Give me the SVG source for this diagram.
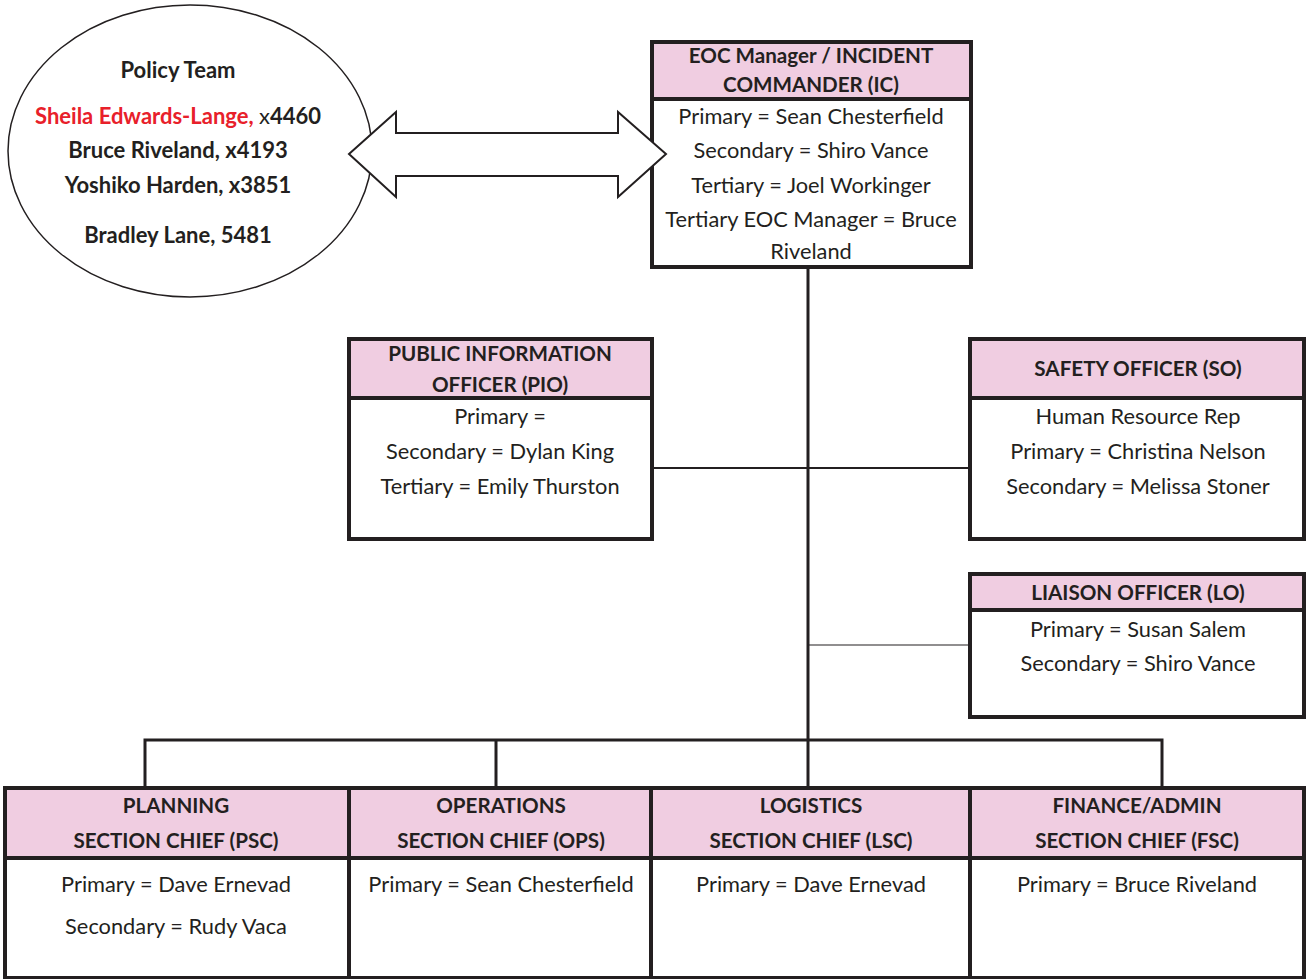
<svg xmlns="http://www.w3.org/2000/svg" width="1306" height="979" viewBox="0 0 1306 979">
<style>
.box{fill:#fff;stroke:#231f20;stroke-width:4}
.hdr{fill:#f0cde1;stroke:#231f20;stroke-width:4}
.t{font-family:Lato,"Open Sans",sans-serif;font-size:21.8px;fill:#231f20;text-anchor:middle}
.b{font-family:Lato,"Open Sans",sans-serif;font-size:20.6px;font-weight:bold;fill:#231f20;text-anchor:middle}
.p{font-family:Lato,"Open Sans",sans-serif;font-size:22px;font-weight:bold;fill:#231f20;text-anchor:middle}
.c{stroke:#231f20;fill:none}
</style>
<rect width="1306" height="979" fill="#fff"/>
<g id="policy">
<ellipse cx="190" cy="151" rx="182" ry="146" fill="none" stroke="#231f20" stroke-width="1.5"/>
<text class="p" x="178" y="78">Policy Team</text>
<text class="p" x="178" y="124"><tspan fill="#e8202a">Sheila Edwards-Lange, </tspan><tspan font-weight="normal">x</tspan>4460</text>
<text class="p" x="178" y="158">Bruce Riveland, x4193</text>
<text class="p" x="178" y="193">Yoshiko Harden, x3851</text>
<text class="p" x="178" y="243">Bradley Lane, 5481</text>
</g>
<g id="eoc">
<rect class="box" x="652" y="42" width="319" height="225"/>
<rect class="hdr" x="652" y="42" width="319" height="57"/>
<text class="b" x="811" y="63">EOC Manager / INCIDENT</text>
<text class="b" x="811" y="92">COMMANDER (IC)</text>
<text class="t" x="811" y="124">Primary = Sean Chesterfield</text>
<text class="t" x="811" y="158">Secondary = Shiro Vance</text>
<text class="t" x="811" y="193">Tertiary = Joel Workinger</text>
<text class="t" x="811" y="227">Tertiary EOC Manager = Bruce</text>
<text class="t" x="811" y="259">Riveland</text>
</g>
<g id="pio">
<rect class="box" x="349" y="339" width="303" height="200"/>
<rect class="hdr" x="349" y="339" width="303" height="59"/>
<text class="b" x="500" y="361">PUBLIC INFORMATION</text>
<text class="b" x="500" y="392">OFFICER (PIO)</text>
<text class="t" x="500" y="424">Primary =</text>
<text class="t" x="500" y="459">Secondary = Dylan King</text>
<text class="t" x="500" y="494">Tertiary = Emily Thurston</text>
</g>
<g id="safety">
<rect class="box" x="970" y="339" width="334" height="200"/>
<rect class="hdr" x="970" y="339" width="334" height="59"/>
<text class="b" x="1138" y="376">SAFETY OFFICER (SO)</text>
<text class="t" x="1138" y="424">Human Resource Rep</text>
<text class="t" x="1138" y="459">Primary = Christina Nelson</text>
<text class="t" x="1138" y="494">Secondary = Melissa Stoner</text>
</g>
<g id="liaison">
<rect class="box" x="970" y="574" width="334" height="143"/>
<rect class="hdr" x="970" y="574" width="334" height="36"/>
<text class="b" x="1138" y="600">LIAISON OFFICER (LO)</text>
<text class="t" x="1138" y="637">Primary = Susan Salem</text>
<text class="t" x="1138" y="671">Secondary = Shiro Vance</text>
</g>
<g id="psc">
<rect class="box" x="5" y="788" width="344" height="190"/>
<rect class="hdr" x="5" y="788" width="344" height="70"/>
<text class="b" x="176" y="813">PLANNING</text>
<text class="b" x="176" y="848">SECTION CHIEF (PSC)</text>
<text class="t" x="176" y="892">Primary = Dave Ernevad</text>
<text class="t" x="176" y="934">Secondary = Rudy Vaca</text>
</g>
<g id="ops">
<rect class="box" x="349" y="788" width="302" height="190"/>
<rect class="hdr" x="349" y="788" width="302" height="70"/>
<text class="b" x="501" y="813">OPERATIONS</text>
<text class="b" x="501" y="848">SECTION CHIEF (OPS)</text>
<text class="t" x="501" y="892">Primary = Sean Chesterfield</text>
</g>
<g id="lsc">
<rect class="box" x="651" y="788" width="319" height="190"/>
<rect class="hdr" x="651" y="788" width="319" height="70"/>
<text class="b" x="811" y="813">LOGISTICS</text>
<text class="b" x="811" y="848">SECTION CHIEF (LSC)</text>
<text class="t" x="811" y="892">Primary = Dave Ernevad</text>
</g>
<g id="fsc">
<rect class="box" x="970" y="788" width="334" height="190"/>
<rect class="hdr" x="970" y="788" width="334" height="70"/>
<text class="b" x="1137" y="813">FINANCE/ADMIN</text>
<text class="b" x="1137" y="848">SECTION CHIEF (FSC)</text>
<text class="t" x="1137" y="892">Primary = Bruce Riveland</text>
</g>
<g id="connectors">
<line class="c" x1="808" y1="269" x2="808" y2="741" stroke-width="3"/>
<line class="c" x1="654" y1="468" x2="968" y2="468" stroke-width="2"/>
<line class="c" x1="808" y1="645" x2="968" y2="645" stroke-width="1.2"/>
<polyline class="c" points="145,786 145,740 1162,740 1162,786" stroke-width="3"/>
<line class="c" x1="496" y1="740" x2="496" y2="786" stroke-width="3"/>
<line class="c" x1="808" y1="740" x2="808" y2="786" stroke-width="3"/>
<polygon id="arrow" points="349,154 396,112 396,133 618,133 618,112 666,154 618,197 618,176 396,176 396,197" fill="#fff" stroke="#231f20" stroke-width="2"/>
</g>
</svg>
